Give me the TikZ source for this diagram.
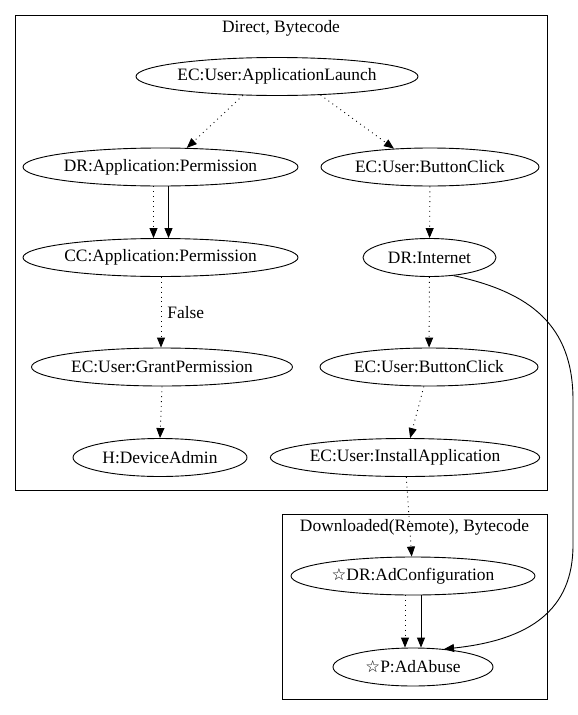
\documentclass[tikz,border=0pt]{standalone}
\usepackage{fontspec}
\setmainfont{Liberation Serif}
\newfontfamily\symfont{DejaVu Sans}
\usetikzlibrary{shapes.geometric,arrows.meta,calc}
\tikzset{
  gnode/.style={ellipse, draw, line width=0.9pt, inner sep=0pt, minimum height=38pt, font=\fontsize{17.4}{19}\selectfont},
  cluster/.style={draw, line width=0.9pt},
  ctitle/.style={font=\fontsize{17.4}{19}\selectfont, inner sep=0pt},
  dotedge/.style={line width=0.9pt, dash pattern=on 0.9pt off 4pt, -{Triangle[length=10pt,width=8pt]}},
  soledge/.style={line width=0.9pt, -{Triangle[length=10pt,width=8pt]}},
  elabel/.style={font=\fontsize{17.4}{19}\selectfont, inner sep=0pt},
  star/.style={}
}
\newcommand{\mystar}{{\symfont\fontsize{16.5}{19}\selectfont ☆}}
\begin{document}
\begin{tikzpicture}[x=1pt,y=-1pt]
\useasboundingbox (0,0) rectangle (578,715);
% clusters
\draw[cluster] (15,15) rectangle (547,490);
\node[ctitle] (t1) at (281,28) {Direct, Bytecode};
\draw[cluster] (282,514) rectangle (547,699);
\node[ctitle] (t2) at (414.5,527) {Downloaded(Remote), Bytecode};
% nodes
\node[gnode, minimum width=282pt] (appl) at (277,76.5) {EC:User:ApplicationLaunch};
\node[gnode, minimum width=275pt] (drperm) at (160.5,167) {DR:Application:Permission};
\node[gnode, minimum width=218pt] (bc1) at (430,167) {EC:User:ButtonClick};
\node[gnode, minimum width=275pt] (ccperm) at (160.5,257.5) {CC:Application:Permission};
\node[gnode, minimum width=133pt] (inet) at (429.5,257.5) {DR:Internet};
\node[gnode, minimum width=261pt] (grant) at (162,367) {EC:User:GrantPermission};
\node[gnode, minimum width=218pt] (bc2) at (429,367) {EC:User:ButtonClick};
\node[gnode, minimum width=174pt] (admin) at (160,457.5) {H:DeviceAdmin};
\node[gnode, minimum width=266pt] (install) at (405,457.5) {EC:User:InstallApplication};
\node[gnode, minimum width=244pt] (adconf) at (413,576) {\mystar DR:AdConfiguration};
\node[gnode, minimum width=160pt] (adabuse) at (413,667) {\mystar P:AdAbuse};
% edges
\draw[dotedge] (appl.209) -- (drperm.36);
\draw[dotedge] (appl.-23) -- (bc1.153);
\draw[dotedge] ([xshift=-7pt]drperm.south) -- ([xshift=-7pt]ccperm.north);
\draw[soledge] ([xshift=8pt]drperm.south) -- ([xshift=8pt]ccperm.north);
\draw[dotedge] ([xshift=0.5pt]ccperm.south) -- ([xshift=-1pt]grant.north) node[elabel, midway, right=6pt] (lfalse) {False};
\draw[dotedge] (grant.south) -- (admin.north);
\draw[dotedge] (bc1) -- (inet);
\draw[dotedge] (inet) -- (bc2);
\draw[dotedge] (bc2) -- (install);
\draw[dotedge] (install) -- (adconf);
\draw[dotedge] ([xshift=-8pt]adconf.south) -- ([xshift=-8pt]adabuse.north);
\draw[soledge] ([xshift=8pt]adconf.south) -- ([xshift=8pt]adabuse.north);
\draw[soledge] (inet.-37) .. controls (530,292) and (573,325) .. (573,400)
  -- (573,545) .. controls (573,610) and (530,640) .. (adabuse.30);
\end{tikzpicture}
\end{document}
